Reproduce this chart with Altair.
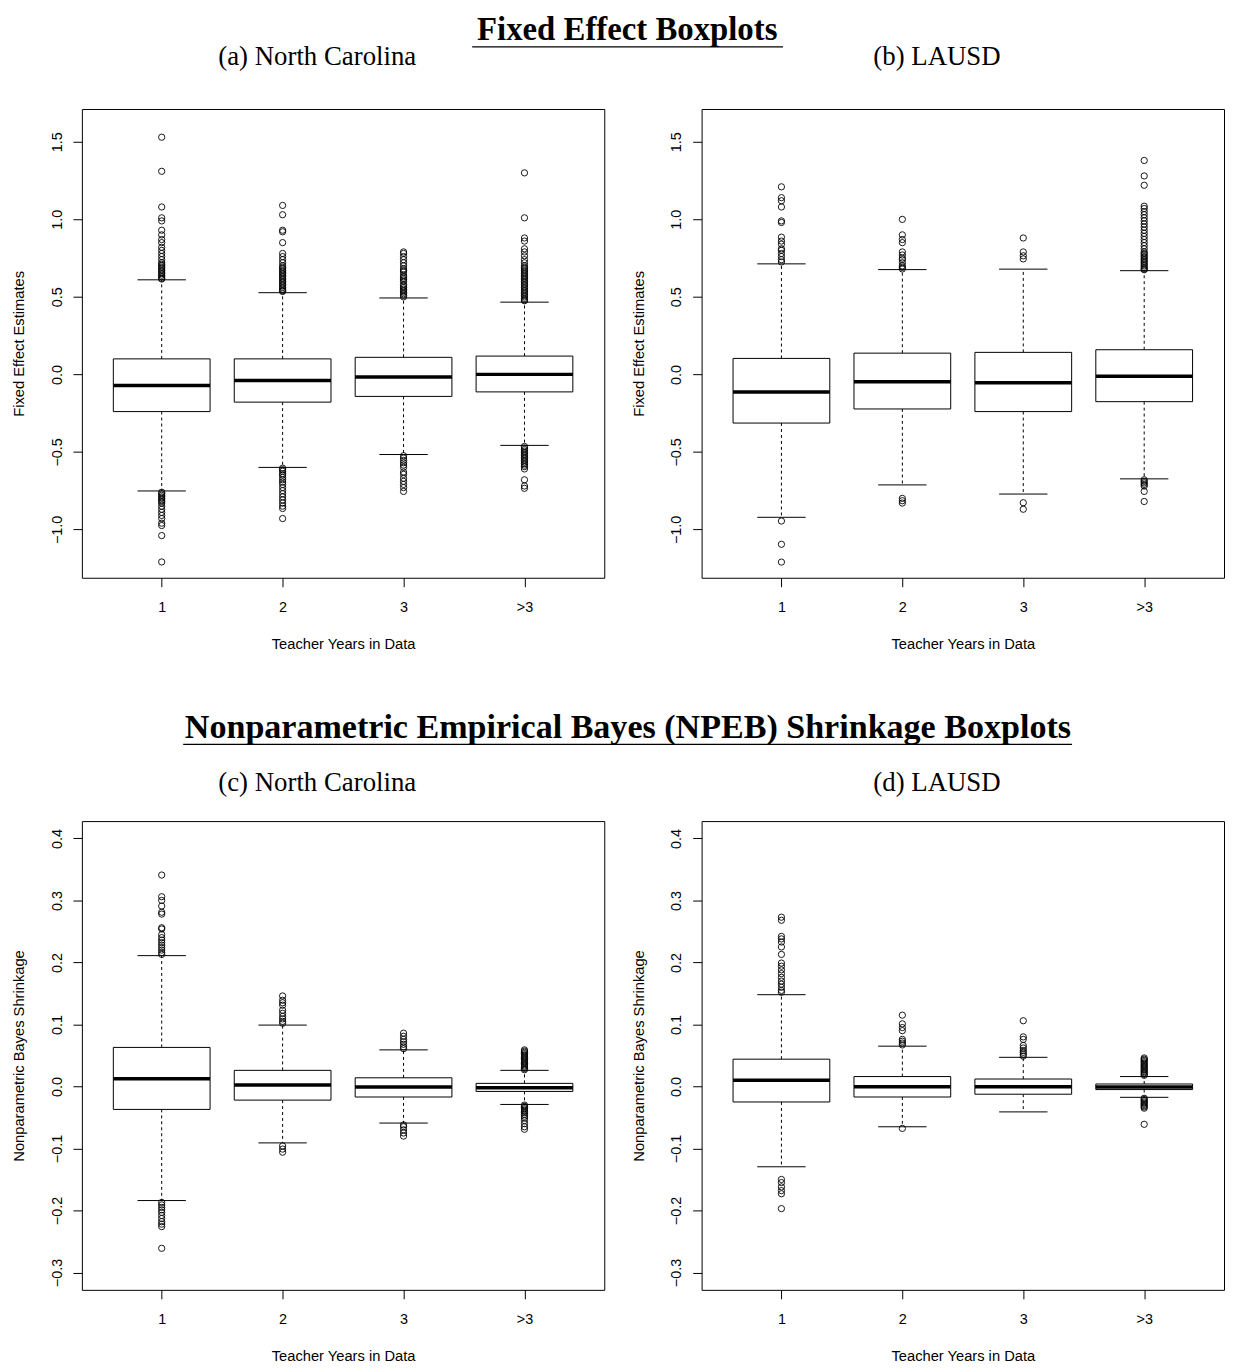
import altair as alt
import pandas as pd

categories = ["1", "2", "3", ">3"]
positions = [1, 2, 3, 4]

section_titles = ["Fixed Effect Boxplots",
                  "Nonparametric Empirical Bayes (NPEB) Shrinkage Boxplots"]
subtitles = ["(a) North Carolina", "(b) LAUSD", "(c) North Carolina", "(d) LAUSD"]
x_title = "Teacher Years in Data"
y_titles = ["Fixed Effect Estimates", "Nonparametric Bayes Shrinkage"]

fe_ticks = [-1.0, -0.5, 0.0, 0.5, 1.0, 1.5]
np_ticks = [-0.3, -0.2, -0.1, 0.0, 0.1, 0.2, 0.3, 0.4]
fe_domain = [-1.312, 1.712]
np_domain = [-0.328, 0.428]

# ---- (a) North Carolina, fixed effects ----
a_q1 = [-0.240, -0.179, -0.142, -0.113]
a_med = [-0.071, -0.039, -0.017, 0.000]
a_q3 = [0.100, 0.100, 0.110, 0.118]
a_lo = [-0.752, -0.600, -0.517, -0.458]
a_hi = [0.610, 0.527, 0.493, 0.466]
a_out1 = [1.53, 1.31, 1.08, 1.01, 0.99, 0.93, 0.90, 0.87, 0.85, 0.82, 0.80, 0.78,
          0.76, 0.74, 0.72, 0.71, 0.70, 0.69, 0.68, 0.67, 0.66, 0.65, 0.64, 0.63,
          0.62, 0.615, -0.76, -0.77, -0.78, -0.79, -0.80, -0.81, -0.82, -0.83,
          -0.85, -0.87, -0.89, -0.91, -0.93, -0.96, -0.975, -1.04, -1.21]
a_out2 = [1.09, 1.03, 0.93, 0.92, 0.85, 0.78, 0.76, 0.74, 0.72, 0.70, 0.69, 0.68,
          0.67, 0.66, 0.65, 0.64, 0.63, 0.62, 0.61, 0.60, 0.59, 0.58, 0.57, 0.56,
          0.55, 0.54, 0.535, -0.605, -0.615, -0.625, -0.64, -0.65, -0.665, -0.68,
          -0.695, -0.71, -0.73, -0.75, -0.77, -0.79, -0.81, -0.83, -0.85, -0.865,
          -0.93]
a_out3 = [0.79, 0.78, 0.76, 0.74, 0.72, 0.70, 0.68, 0.67, 0.66, 0.64, 0.63, 0.62,
          0.61, 0.60, 0.58, 0.57, 0.56, 0.55, 0.54, 0.53, 0.52, 0.51, 0.50, -0.525,
          -0.54, -0.555, -0.57, -0.585, -0.60, -0.63, -0.645, -0.67, -0.69, -0.71,
          -0.73, -0.755]
a_out4 = [1.30, 1.01, 0.88, 0.86, 0.81, 0.79, 0.765, 0.74, 0.72, 0.70, 0.69, 0.68,
          0.67, 0.66, 0.65, 0.64, 0.63, 0.62, 0.61, 0.60, 0.59, 0.58, 0.57, 0.56,
          0.55, 0.54, 0.53, 0.52, 0.51, 0.50, 0.49, 0.48, 0.475, -0.465, -0.475,
          -0.485, -0.495, -0.505, -0.515, -0.525, -0.535, -0.545, -0.555, -0.565,
          -0.575, -0.585, -0.595, -0.61, -0.68, -0.72, -0.735]

# ---- (b) LAUSD, fixed effects ----
b_q1 = [-0.314, -0.223, -0.240, -0.176]
b_med = [-0.113, -0.047, -0.054, -0.012]
b_q3 = [0.103, 0.137, 0.142, 0.159]
b_lo = [-0.922, -0.713, -0.772, -0.674]
b_hi = [0.713, 0.676, 0.679, 0.669]
b_out1 = [1.21, 1.14, 1.12, 1.08, 0.99, 0.98, 0.885, 0.86, 0.84, 0.81, 0.80, 0.78,
          0.76, 0.74, 0.725, -0.946, -1.096, -1.211]
b_out2 = [1.00, 0.90, 0.87, 0.85, 0.79, 0.77, 0.75, 0.74, 0.72, 0.70, 0.69, 0.68,
          -0.80, -0.815, -0.83]
b_out3 = [0.88, 0.79, 0.765, 0.745, -0.828, -0.87]
b_out4 = [1.38, 1.28, 1.22, 1.085, 1.07, 1.05, 1.03, 1.01, 0.99, 0.97, 0.95, 0.93,
          0.91, 0.89, 0.87, 0.85, 0.83, 0.81, 0.79, 0.78, 0.77, 0.76, 0.75, 0.74,
          0.73, 0.72, 0.71, 0.70, 0.69, 0.68, 0.675, -0.68, -0.69, -0.70, -0.71,
          -0.72, -0.755, -0.82]

# ---- (c) North Carolina, NPEB shrinkage ----
c_q1 = [-0.037, -0.022, -0.017, -0.008]
c_med = [0.0125, 0.0025, -0.001, -0.002]
c_q3 = [0.063, 0.026, 0.014, 0.005]
c_lo = [-0.184, -0.091, -0.059, -0.029]
c_hi = [0.211, 0.099, 0.059, 0.026]
c_out1 = [0.341, 0.306, 0.300, 0.291, 0.281, 0.278, 0.256, 0.254, 0.245, 0.240,
          0.236, 0.232, 0.228, 0.224, 0.220, 0.216, 0.213, -0.187, -0.191, -0.195,
          -0.199, -0.203, -0.208, -0.213, -0.218, -0.222, -0.226, -0.261]
c_out2 = [0.146, 0.139, 0.135, 0.131, 0.123, 0.118, 0.113, 0.109, 0.105, 0.102,
          -0.096, -0.101, -0.106]
c_out3 = [0.086, 0.081, 0.076, 0.072, 0.068, 0.064, 0.061, -0.062, -0.065, -0.070,
          -0.075, -0.080]
c_out4 = [0.059, 0.057, 0.055, 0.053, 0.051, 0.049, 0.047, 0.045, 0.043, 0.041,
          0.039, 0.037, 0.035, 0.033, 0.031, 0.029, 0.027, -0.030, -0.032, -0.034,
          -0.036, -0.038, -0.040, -0.042, -0.045, -0.048, -0.051, -0.055, -0.060,
          -0.065, -0.069]

# ---- (d) LAUSD, NPEB shrinkage ----
d_q1 = [-0.025, -0.017, -0.0125, -0.005]
d_med = [0.010, -0.0006, -0.0006, -0.001]
d_q3 = [0.044, 0.016, 0.012, 0.004]
d_lo = [-0.1295, -0.065, -0.041, -0.0175]
d_hi = [0.148, 0.065, 0.047, 0.016]
d_out1 = [0.273, 0.268, 0.242, 0.238, 0.233, 0.225, 0.213, 0.199, 0.194, 0.188,
          0.182, 0.176, 0.170, 0.165, 0.160, 0.155, 0.152, -0.150, -0.155, -0.162,
          -0.168, -0.173, -0.197]
d_out2 = [0.115, 0.101, 0.095, 0.090, 0.076, 0.073, 0.070, 0.067, -0.0676]
d_out3 = [0.106, 0.080, 0.076, 0.066, 0.062, 0.058, 0.055, 0.052, 0.049]
d_out4 = [0.046, 0.044, 0.042, 0.040, 0.038, 0.036, 0.034, 0.032, 0.030, 0.028,
          0.026, 0.024, 0.022, 0.020, 0.018, -0.019, -0.021, -0.023, -0.025, -0.027,
          -0.029, -0.031, -0.033, -0.035, -0.061]

# ---------------- styling ----------------
PW, PH = 526, 472
BOX_HALF = 0.4
STAPLE_HALF = 0.2
X_DOMAIN = [0.34, 4.66]
SANS = "Liberation Sans"
SERIF = "Liberation Serif"
SEC_SIZE = 33
SEC2_SIZE = 34.3
SUB_SIZE = 27


def stats_df(q1, med, q3, lo, hi):
    return pd.DataFrame({"pos": positions, "cat": categories, "q1": q1, "med": med,
                         "q3": q3, "lo": lo, "hi": hi})


def out_df(groups):
    rows = []
    for p, vals in zip(positions, groups):
        for v in vals:
            rows.append({"pos": p, "v": v})
    return pd.DataFrame(rows)


label_expr = "[" + ",".join("'" + c + "'" for c in categories) + "][datum.value - 1]"


def text_layer(text, x, y, size, weight):
    return alt.Chart(pd.DataFrame({"t": [text]})).mark_text(
        font=SERIF, fontSize=size, fontWeight=weight, align="center",
        baseline="alphabetic", color="black").encode(
        text="t:N", x=alt.value(x), y=alt.value(y))


def underline(text, x1, x2, y):
    return alt.Chart(pd.DataFrame({"t": [text]})).mark_rule(
        color="black", strokeWidth=1.3).encode(
        x=alt.value(x1), x2=alt.value(x2), y=alt.value(y))


def panel(stats, outs, ydom, yticks, ytitle, subtitle, sub_y, decor=None):
    base = alt.Chart(stats).transform_calculate(
        xl=f"datum.pos - {BOX_HALF}", xr=f"datum.pos + {BOX_HALF}",
        sl=f"datum.pos - {STAPLE_HALF}", sr=f"datum.pos + {STAPLE_HALF}")
    xscale = alt.Scale(domain=X_DOMAIN, nice=False, zero=False)
    yscale = alt.Scale(domain=ydom, nice=False, zero=False)
    xaxis = alt.Axis(values=positions, labelExpr=label_expr, title=x_title,
                     grid=False, domain=False, tickSize=9, tickColor="black",
                     tickWidth=1, labelColor="black", titleColor="black",
                     labelFont=SANS, titleFont=SANS, labelFontSize=14.5,
                     titleFontSize=14.8, titleFontWeight="normal",
                     labelPadding=13.5, titlePadding=23, labelFlush=False,
                     labelOverlap=False)
    yaxis = alt.Axis(values=yticks, format=".1f", title=ytitle, grid=False,
                     domain=False, tickSize=9, tickColor="black", tickWidth=1,
                     labelColor="black", titleColor="black", labelFont=SANS,
                     titleFont=SANS, labelFontSize=14.5, titleFontSize=14.8,
                     titleFontWeight="normal", labelAngle=270, labelAlign="center",
                     labelBaseline="alphabetic", labelPadding=12, titlePadding=23,
                     labelFlush=False, labelOverlap=False)
    whisk_hi = base.mark_rule(color="black", strokeWidth=1, strokeDash=[3, 3]).encode(
        x=alt.X("pos:Q", scale=xscale, axis=xaxis),
        y=alt.Y("q3:Q", scale=yscale, axis=yaxis), y2="hi:Q")
    whisk_lo = base.mark_rule(color="black", strokeWidth=1, strokeDash=[3, 3]).encode(
        x="pos:Q", y="q1:Q", y2="lo:Q")
    box = base.mark_rect(fill="white", stroke="black", strokeWidth=1).encode(
        x="xl:Q", x2="xr:Q", y="q1:Q", y2="q3:Q")
    med = base.mark_rule(color="black", strokeWidth=3.5).encode(
        x="xl:Q", x2="xr:Q", y="med:Q")
    st_hi = base.mark_rule(color="black", strokeWidth=1).encode(
        x="sl:Q", x2="sr:Q", y="hi:Q")
    st_lo = base.mark_rule(color="black", strokeWidth=1).encode(
        x="sl:Q", x2="sr:Q", y="lo:Q")
    pts = alt.Chart(outs).mark_point(shape="circle", filled=False, color="black",
                                     size=40, strokeWidth=0.9, opacity=1).encode(
        x="pos:Q", y="v:Q")
    sub = text_layer(subtitle, 237, sub_y, SUB_SIZE, "normal")
    layers = [whisk_hi, whisk_lo, box, med, st_hi, st_lo, pts, sub]
    if decor:
        layers += decor
    return alt.layer(*layers).properties(width=PW, height=PH)


pa = panel(stats_df(a_q1, a_med, a_q3, a_lo, a_hi), out_df([a_out1, a_out2, a_out3, a_out4]),
           fe_domain, fe_ticks, y_titles[0], subtitles[0], -44.3,
           decor=[text_layer(section_titles[0], 549.1, -69, SEC_SIZE, "bold"),
                  underline(section_titles[0], 393, 706, -62.5)])
pb = panel(stats_df(b_q1, b_med, b_q3, b_lo, b_hi), out_df([b_out1, b_out2, b_out3, b_out4]),
           fe_domain, fe_ticks, y_titles[0], subtitles[1], -44.3)
pc = panel(stats_df(c_q1, c_med, c_q3, c_lo, c_hi), out_df([c_out1, c_out2, c_out3, c_out4]),
           np_domain, np_ticks, y_titles[1], subtitles[2], -30.3,
           decor=[text_layer(section_titles[1], 549.8, -83.3, SEC2_SIZE, "bold"),
                  underline(section_titles[1], 102, 997, -77.3)])
pd_ = panel(stats_df(d_q1, d_med, d_q3, d_lo, d_hi), out_df([d_out1, d_out2, d_out3, d_out4]),
            np_domain, np_ticks, y_titles[1], subtitles[3], -30.3)

chart = alt.concat(pa, pb, pc, pd_, columns=2,
                   spacing={"row": 245, "column": 98}, bounds="flush").properties(
    padding={"left": 2.4, "top": 1, "right": 0, "bottom": 0}
).configure(background="white", view=alt.ViewConfig(stroke="black", strokeWidth=1))

chart.save("out.html", embed_options={"renderer": "svg", "actions": False})
